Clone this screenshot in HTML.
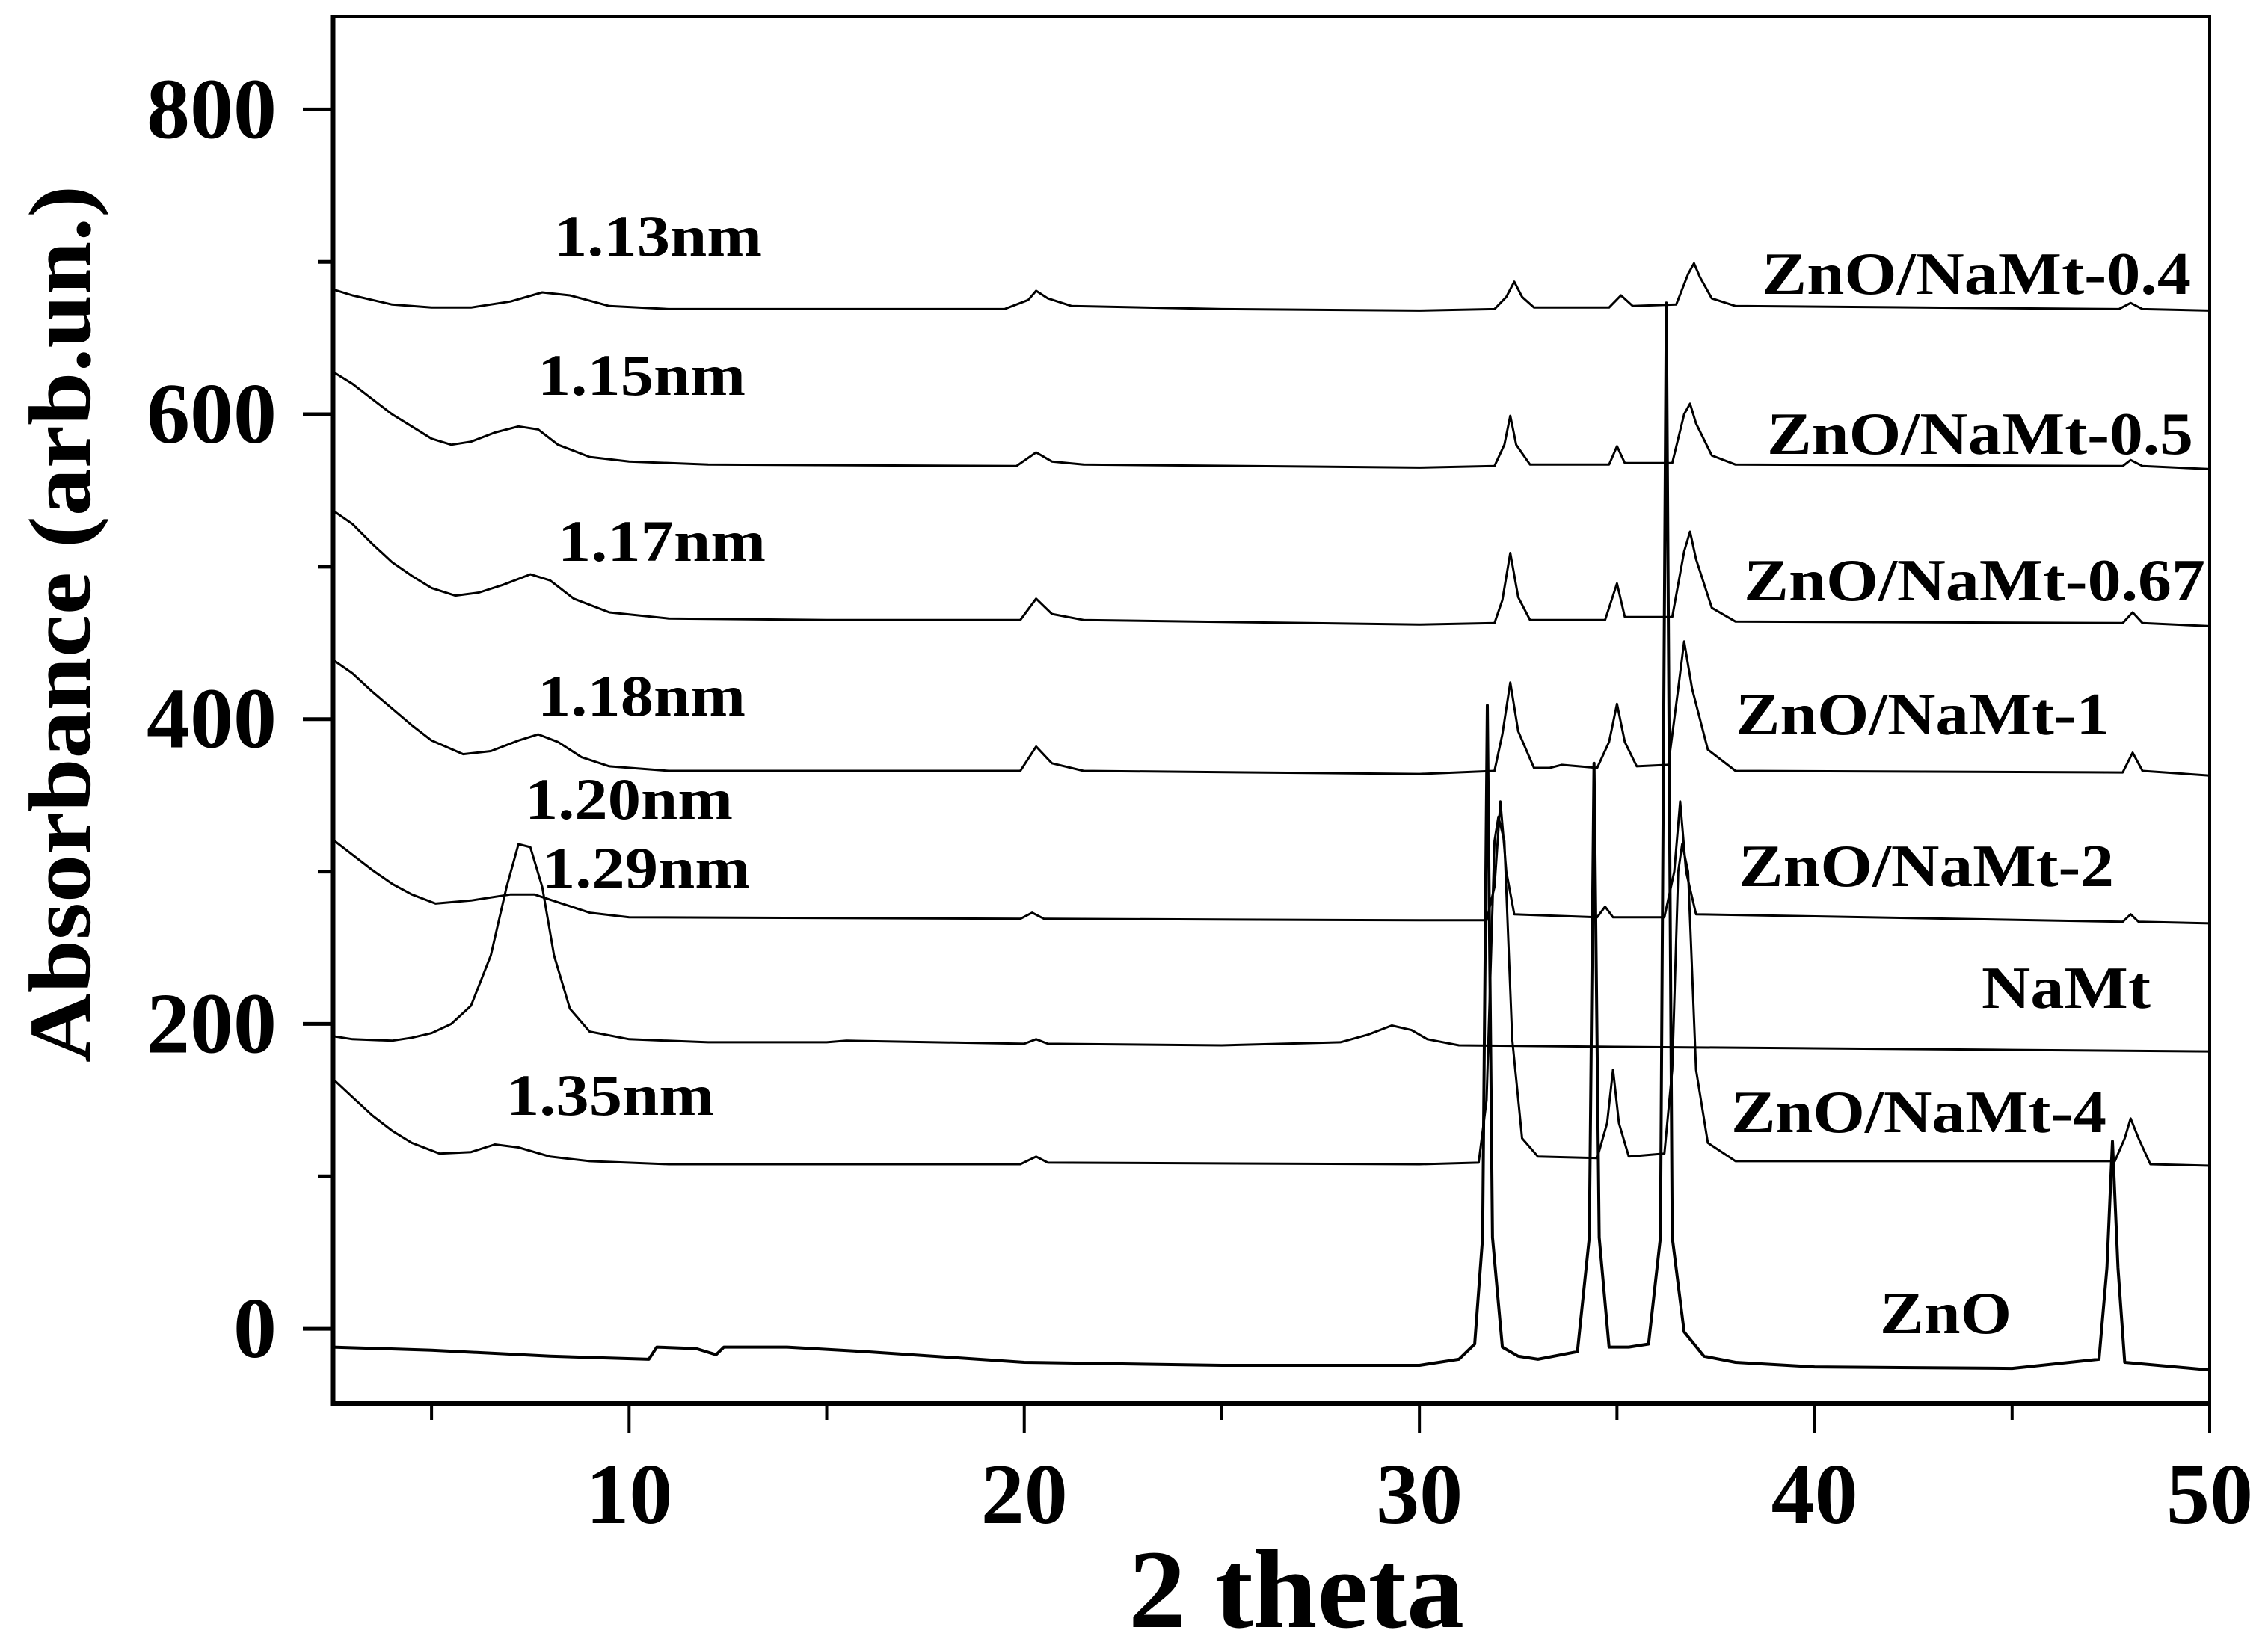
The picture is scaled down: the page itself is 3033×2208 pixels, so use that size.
<!DOCTYPE html>
<html><head><meta charset="utf-8"><style>
html,body{margin:0;padding:0;background:#fff;}
svg{display:block;}
text{font-family:"Liberation Serif",serif;font-weight:bold;fill:#000;}
</style></head><body>
<svg id="chart" width="3033" height="2208" viewBox="0 0 3033 2208" xmlns="http://www.w3.org/2000/svg">
<rect x="0" y="0" width="3033" height="2208" fill="#fff"/>
<g id="series"></g>
<g id="axes"></g>
<g id="labels"></g>
</svg>
<script>
const xTicksMajor = [10, 20, 30, 40, 50];
const xTicksMinor = [5, 15, 25, 35, 45];
const yTicksMajor = [0, 200, 400, 600, 800];
const yTicksMinor = [100, 300, 500, 700];

const seriesNames = ["ZnO/NaMt-0.4","ZnO/NaMt-0.5","ZnO/NaMt-0.67","ZnO/NaMt-1","ZnO/NaMt-2","NaMt","ZnO/NaMt-4","ZnO"];

const s04 = [[2.5,682],[3,678],[4,672],[5,670],[6,670],[7,674],[7.8,680],[8.5,678],[9.5,671],[11,669],[15,669],[19.5,669],[20.1,675],[20.3,681],[20.6,676],[21.2,671],[25,669],[30,668],[31.9,669],[32.2,677],[32.4,687],[32.6,677],[32.9,670],[34.8,670],[35.1,678],[35.4,671],[36.5,672],[36.8,692],[36.95,699],[37.1,690],[37.4,676],[38,671],[47.7,669],[48,673],[48.3,669],[50,668]];
const s05 = [[2.5,628],[3,620],[3.5,610],[4,600],[4.5,592],[5,584],[5.5,580],[6,582],[6.6,588],[7.2,592],[7.7,590],[8.2,580],[9,572],[10,569],[12,567],[19.8,566],[20.3,575],[20.7,569],[21.5,567],[30,565],[31.9,566],[32.15,580],[32.3,599],[32.45,580],[32.8,567],[34.8,567],[35.0,579],[35.2,568],[36.4,568],[36.7,600],[36.85,607],[37.0,594],[37.4,573],[38,567],[47.8,566],[48,570],[48.3,566],[50,564]];
const s067 = [[2.5,537],[3,528],[3.5,515],[4,503],[4.5,494],[5,486],[5.6,481],[6.2,483],[6.8,488],[7.5,495],[8,491],[8.6,479],[9.5,470],[11,466],[15,465],[19.9,465],[20.3,479],[20.7,469],[21.5,465],[30,462],[31.9,463],[32.1,478],[32.3,509],[32.5,480],[32.8,465],[34.7,465],[35.0,489],[35.2,467],[36.4,467],[36.7,510],[36.85,523],[37.0,505],[37.4,473],[38,464],[47.8,463],[48.05,470],[48.3,463],[50,461]];
const s1 = [[2.5,439],[3,430],[3.5,418],[4,407],[4.5,396],[5,386],[5.8,377],[6.5,379],[7.2,386],[7.7,390],[8.2,385],[8.8,375],[9.5,369],[11,366],[19.9,366],[20.3,382],[20.7,371],[21.5,366],[30,364],[31.9,366],[32.1,390],[32.3,424],[32.5,392],[32.9,368],[33.3,368],[33.6,370],[34.5,368],[34.8,385],[35.0,410],[35.2,385],[35.5,369],[36.3,370],[36.55,420],[36.7,451],[36.9,420],[37.3,380],[38,366],[47.8,365],[48.05,378],[48.3,366],[50,363]];
const s2 = [[2.5,321],[3,311],[3.5,301],[4,292],[4.5,285],[5.1,279],[6,281],[7,285],[7.6,285],[8.3,279],[9,273],[10,270],[19.9,269],[20.2,273],[20.5,269],[30,268],[31.7,268],[31.9,290],[32.05,346],[32.2,300],[32.4,272],[34.5,270],[34.7,277],[34.9,270],[36.2,270],[36.45,300],[36.6,346],[36.75,300],[37,272],[47.8,267],[48,272],[48.2,267],[50,266]];
const sNaMt = [[2.5,192],[3,190],[4,189],[4.5,191],[5,194],[5.5,200],[6,212],[6.5,245],[6.9,290],[7.2,318],[7.5,316],[7.8,290],[8.1,245],[8.5,210],[9,195],[10,190],[12,188],[15,188],[15.5,189],[20,187],[20.3,190],[20.6,187],[25,186],[28,188],[28.7,193],[29.3,199],[29.8,196],[30.2,190],[31,186],[35,185],[40,184],[45,183],[50,182]];
const s4 = [[2.5,164],[3,152],[3.5,140],[4,130],[4.5,122],[5.2,115],[6,116],[6.6,121],[7.2,119],[8,113],[9,110],[11,108],[19.9,108],[20.3,113],[20.6,109],[30,108],[31.5,109],[31.7,150],[31.9,320],[32.0,336],[32.15,320],[32.35,190],[32.6,125],[33,113],[34.5,112],[34.75,135],[34.9,170],[35.05,135],[35.3,113],[36.2,115],[36.4,170],[36.55,300],[36.65,318],[36.8,300],[37.0,170],[37.3,122],[38,110],[47.6,110],[47.85,125],[48.0,138],[48.2,125],[48.5,108],[50,107]];
const sZnO = [[2.5,-12],[5,-14],[8,-18],[10.5,-20],[10.7,-12],[11.7,-13],[12.2,-17],[12.4,-12],[14,-12],[16,-15],[20,-22],[25,-24],[30,-24],[31,-20],[31.4,-10],[31.6,60],[31.72,409],[31.85,60],[32.1,-12],[32.5,-18],[33,-20],[34.0,-15],[34.3,60],[34.42,371],[34.55,60],[34.8,-12],[35.3,-12],[35.8,-10],[36.1,60],[36.25,673],[36.4,60],[36.7,-2],[37.2,-18],[38,-22],[40,-25],[45,-26],[47.2,-20],[47.4,40],[47.54,123],[47.68,40],[47.85,-22],[50,-27]];

const seriesData = [s04, s05, s067, s1, s2, sNaMt, s4, sZnO];

const annotTexts = ["1.13nm","1.15nm","1.17nm","1.18nm","1.20nm","1.29nm","1.35nm"];

const NS = "http://www.w3.org/2000/svg";
const X0 = 2.5, X1 = 50, Y0 = -49, Y1 = 861;
const PL = 445, PR = 2955, PT = 22, PB = 1877;
function xs(v){ return PL + (v - X0) / (X1 - X0) * (PR - PL); }
function ys(v){ return PB - (v - Y0) / (Y1 - Y0) * (PB - PT); }
function mk(tag, attrs, parent){ const e = document.createElementNS(NS, tag); for (const k in attrs) e.setAttribute(k, attrs[k]); parent.appendChild(e); return e; }

const gS = document.getElementById('series');
seriesData.forEach((d, i) => {
  const pts = d.map(p => xs(p[0]).toFixed(1) + ',' + ys(p[1]).toFixed(1)).join(' ');
  const pl = mk('polyline', {points: pts, fill: 'none', stroke: '#000', 'stroke-width': i === 7 ? 4 : 3, 'stroke-linejoin': 'round'}, gS);
  
  
});

const gA = document.getElementById('axes');
const frame = mk('rect', {x: PL, y: PT, width: PR - PL, height: PB - PT, fill: 'none', stroke: '#000', 'stroke-width': 4}, gA);


const la = mk('line', {x1: PL, y1: PT - 2, x2: PL, y2: PB + 3, stroke: '#000', 'stroke-width': 7}, gA);


const ba = mk('line', {x1: PL - 3, y1: PB, x2: PR + 2, y2: PB, stroke: '#000', 'stroke-width': 8}, gA);



xTicksMajor.forEach(v => {
  const t = mk('line', {x1: xs(v), y1: PB, x2: xs(v), y2: PB + 40, stroke: '#000', 'stroke-width': 4}, gA);
  
  
  const tx = mk('text', {x: xs(v), y: 2037, 'text-anchor': 'middle', 'font-size': 116, textLength: 116, lengthAdjust: 'spacingAndGlyphs'}, gA);
  tx.textContent = v;
  
  
});
xTicksMinor.forEach(v => {
  const t = mk('line', {x1: xs(v), y1: PB, x2: xs(v), y2: PB + 22, stroke: '#000', 'stroke-width': 4}, gA);
  
  
});
yTicksMajor.forEach(v => {
  const t = mk('line', {x1: PL - 40, y1: ys(v), x2: PL, y2: ys(v), stroke: '#000', 'stroke-width': 5}, gA);
  
  
  const w = String(v).length * 58;
  const tx = mk('text', {x: 370, y: ys(v) + 38, 'text-anchor': 'end', 'font-size': 116, textLength: w, lengthAdjust: 'spacingAndGlyphs'}, gA);
  tx.textContent = v;
  
  
});
yTicksMinor.forEach(v => {
  const t = mk('line', {x1: PL - 20, y1: ys(v), x2: PL, y2: ys(v), stroke: '#000', 'stroke-width': 5}, gA);
  
  
});
</script>
<script>
const gL = document.getElementById('labels');
function lbl(txt, x, y, fs, len, name){
  const t = document.createElementNS("http://www.w3.org/2000/svg", 'text');
  t.setAttribute('x', x); t.setAttribute('y', y); t.setAttribute('font-size', fs);
  if (len) { t.setAttribute('textLength', len); t.setAttribute('lengthAdjust', 'spacingAndGlyphs'); }
  t.textContent = txt;
  
  
  gL.appendChild(t);
  return t;
}
const annotX = [741, 719, 746, 719, 702, 725, 677];
const annotY = [342, 528, 750, 957, 1095, 1187, 1491];
annotTexts.forEach((s, i) => lbl(s, annotX[i], annotY[i], 78, 278, 'd-spacing-annotation'));
const legX = [2356, 2363, 2332, 2321, 2325, 2650, 2315, 2514];
const legY = [393, 607, 803, 982, 1185, 1348, 1514, 1783];
const legW = [574, 570, 617, 500, 502, 226, 502, 176];
seriesNames.forEach((s, i) => lbl(s, legX[i], legY[i], 80, legW[i], 'series-label'));
lbl('2 theta', 1509, 2176, 150, 449, 'x-axis-title');
const yt = lbl('Absorbance (arb.un.)', 0, 0, 118, 1173, 'y-axis-title');
yt.setAttribute('transform', 'translate(120,1421) rotate(-90)');
</script>
</body></html>
